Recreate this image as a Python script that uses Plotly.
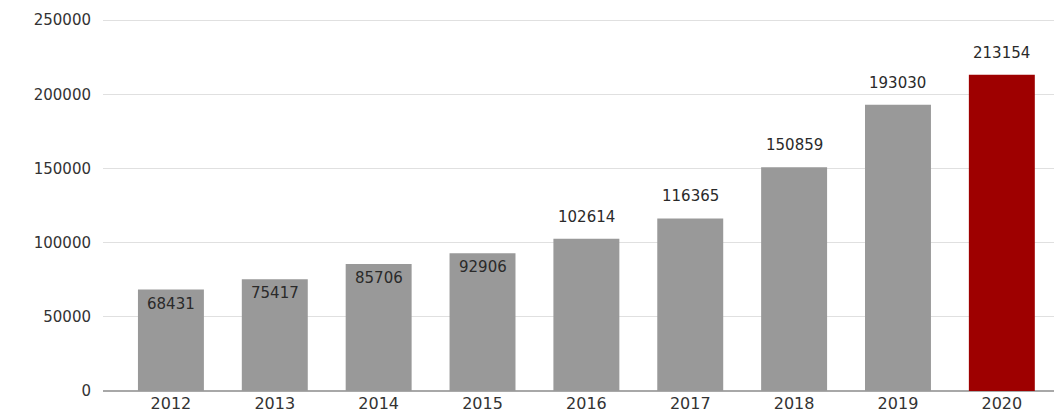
import plotly.graph_objects as go

years = ["2012", "2013", "2014", "2015", "2016", "2017", "2018", "2019", "2020"]
values = [68431, 75417, 85706, 92906, 102614, 116365, 150859, 193030, 213154]
label_inside = [True, True, True, True, False, False, False, False, False]
y_ticks = [0, 50000, 100000, 150000, 200000, 250000]

GRAY = "#999999"
RED = "#9e0000"
colors = [RED if y == "2020" else GRAY for y in years]
FONT = "DejaVu Sans, Verdana, sans-serif"

fig = go.Figure()
fig.add_trace(go.Bar(
    x=years, y=values, marker=dict(color=colors, line=dict(width=0)),
    width=0.635, hoverinfo="x+y",
))

# category axis: annotation x given as category index
for i, (v, inside) in enumerate(zip(values, label_inside)):
    fig.add_annotation(
        x=i, y=v, xref="x", yref="y", text=str(v), showarrow=False,
        yanchor="middle", yshift=-14 if inside else 22,
        font=dict(family=FONT, size=15, color="#2a2a2a"),
    )

# page body has an 8px offset, so the figure is sized/margined accordingly
fig.update_layout(
    width=1054, height=407,
    margin=dict(l=95, r=2, t=11, b=23.5),
    paper_bgcolor="white", plot_bgcolor="white",
    showlegend=False,
    font=dict(family=FONT, size=15, color="#333333"),
)
fig.update_xaxes(
    type="category", range=[-0.654, 8.56], showgrid=False, showline=False,
    ticks="", ticklabelstandoff=1,
    tickfont=dict(family=FONT, size=16, color="#333333"), fixedrange=True,
)
fig.update_yaxes(
    range=[0, 250800], tickvals=y_ticks, ticktext=[str(t) for t in y_ticks],
    showgrid=True, gridcolor="#e0e0e0", gridwidth=1,
    zeroline=True, zerolinecolor="#a8a8a8", zerolinewidth=1.5,
    showline=False, ticks="", ticklabelstandoff=11,
    tickfont=dict(family=FONT, size=15, color="#333333"), fixedrange=True,
)

fig.write_html("out.html")
